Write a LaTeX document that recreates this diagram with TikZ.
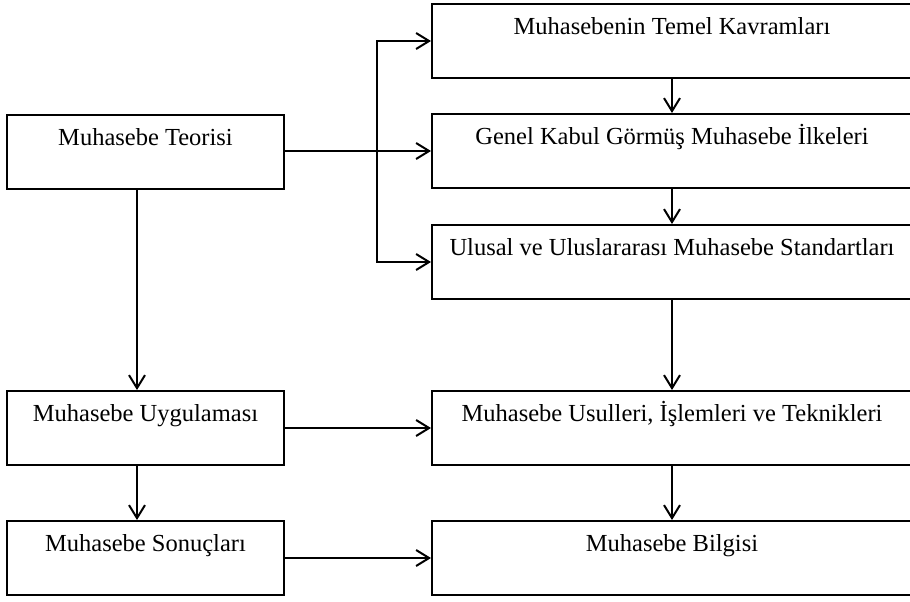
\documentclass[tikz,border=0pt]{standalone}
\usepackage{fontspec}
\setmainfont{Liberation Serif}
\usetikzlibrary{arrows.meta}
\begin{document}
\begin{tikzpicture}[x=0.5pt,y=-0.5pt,
    kutu/.style={draw, line width=1pt, inner sep=0pt, text height=15pt, text depth=22pt, font=\fontsize{12.25}{14}\selectfont},
    sol/.style={kutu, minimum width=138.5pt},
    sag/.style={kutu, minimum width=240pt},
    ok/.style={line width=1pt, -{Straight Barb[length=6.5pt,width=8pt,line width=1pt]}}]
    \useasboundingbox (0,0) rectangle (910,601);
    \node[sol] (teori) at (145.5,152) {Muhasebe Teorisi};
    \node[sol] (uygu) at (145.5,428) {Muhasebe Uygulaması};
    \node[sol] (sonuc) at (145.5,558) {Muhasebe Sonuçları};
    \node[sag] (temel) at (672,41) {Muhasebenin Temel Kavramları};
    \node[sag] (genel) at (672,151) {Genel Kabul Görmüş Muhasebe İlkeleri};
    \node[sag] (ulusal) at (672,262) {Ulusal ve Uluslararası Muhasebe Standartları};
    \node[sag] (usul) at (672,428) {Muhasebe Usulleri, İşlemleri ve Teknikleri};
    \node[sag] (bilgi) at (672,558) {Muhasebe Bilgisi};
    \coordinate (dal) at (377,151);
    \draw[ok] (teori.east |- genel.west) -- (genel.west);
    \draw[ok] (dal) |- (temel.west);
    \draw[ok] (dal) |- (ulusal.west);
    \draw[ok] (temel) -- (genel);
    \draw[ok] (genel) -- (ulusal);
    \draw[ok] (ulusal) -- (usul);
    \draw[ok] (usul) -- (bilgi);
    \draw[ok] ([xshift=-4.25pt]teori.south) -- ([xshift=-4.25pt]uygu.north);
    \draw[ok] ([xshift=-4.25pt]uygu.south) -- ([xshift=-4.25pt]sonuc.north);
    \draw[ok] (uygu) -- (usul);
    \draw[ok] (sonuc) -- (bilgi);
\end{tikzpicture}
\end{document}
